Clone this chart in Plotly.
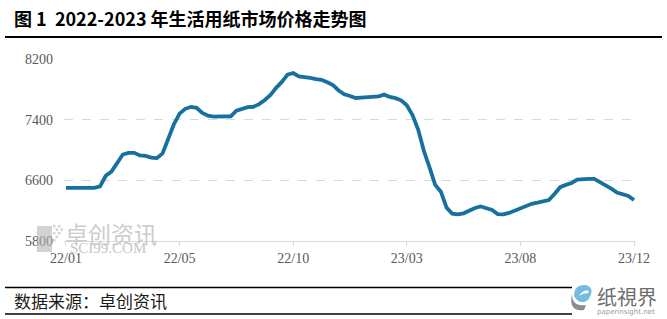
import plotly.graph_objects as go

# ---- data ----
prices = [6500, 6500, 6490, 6495, 6500, 6500, 6520, 6660, 6715, 6830,
          6940, 6962, 6962, 6928, 6922, 6900, 6893, 6955, 7150, 7340,
          7480, 7543, 7568, 7557, 7490, 7452, 7441, 7441, 7441, 7445,
          7518, 7537, 7566, 7570, 7605, 7660, 7725, 7820, 7898, 7995,
          8015, 7970, 7963, 7950, 7936, 7925, 7893, 7855, 7785, 7735,
          7712, 7686, 7690, 7692, 7700, 7706, 7730, 7700, 7684, 7655,
          7590, 7460, 7270, 6990, 6770, 6540, 6450, 6240, 6160, 6151,
          6165, 6205, 6235, 6255, 6236, 6210, 6155, 6151, 6170, 6200,
          6220, 6262, 6290, 6305, 6328, 6340, 6420, 6510, 6540, 6565,
          6610, 6618, 6618, 6618, 6575, 6545, 6490, 6440, 6422, 6395,
          6340]
x_idx = list(range(len(prices)))
tick_positions = [0, 20, 40, 60, 80, 100]
tick_labels = ["22/01", "22/05", "22/10", "23/03", "23/08", "23/12"]
y_ticks = [5800, 6600, 7400, 8200]

W, H = 667, 319
L, R, T, B = 64, 636, 59, 241


def px(x):
    return (x - L) / (R - L)


def py(y):
    return (B - y) / (B - T)


fig = go.Figure()
fig.add_trace(go.Scatter(
    x=x_idx, y=prices, mode="lines",
    line=dict(color="#17709d", width=3.8),
    hoverinfo="skip", showlegend=False,
))

shapes = []
# title rule and footer rules
for (x0, x1, y, w) in [(5, 662, 37, 2), (5, 572, 287.5, 1.6), (5, 572, 314, 1.6)]:
    shapes.append(dict(type="line", xref="paper", yref="paper",
                       x0=px(x0), x1=px(x1), y0=py(y), y1=py(y),
                       line=dict(color="#000000", width=w), layer="above"))
# watermark square block (translucent so the axis label shows through)
shapes.append(dict(type="rect", xref="paper", yref="paper",
                   x0=px(37), x1=px(52), y0=py(252), y1=py(226),
                   fillcolor="#b4b4b4", opacity=0.6, line=dict(width=0), layer="above"))
for (a, b) in [(53, 225), (58, 225), (55.5, 228.5), (53, 232), (58, 232), (60.5, 228.5), (55.5, 235.5), (53, 239)]:
    shapes.append(dict(type="rect", xref="paper", yref="paper",
                       x0=px(a), x1=px(a + 2.5), y0=py(b + 2.5), y1=py(b),
                       fillcolor="#b8b8b8", opacity=0.6, line=dict(width=0), layer="above"))
# paper-insight logo icon
shapes.append(dict(type="path", xref="paper", yref="paper",
                   path=("M {} {} Q {} {} {} {} Q {} {} {} {} Q {} {} {} {} Z").format(
                       px(574), py(296),
                       px(574), py(284), px(586), py(285),
                       px(596), py(288), px(588), py(300),
                       px(580), py(306), px(574), py(296)),
                   fillcolor="#74bde0", line=dict(width=0), layer="above"))
shapes.append(dict(type="path", xref="paper", yref="paper",
                   path=("M {} {} Q {} {} {} {} L {} {} Q {} {} {} {} Z").format(
                       px(579), py(296), px(584), py(289), px(589), py(291),
                       px(588), py(293), px(583), py(293), px(579), py(296)),
                   fillcolor="#ffffff", line=dict(width=0), layer="above"))
shapes.append(dict(type="path", xref="paper", yref="paper",
                   path=("M {} {} Q {} {} {} {} L {} {} Q {} {} {} {} Z").format(
                       px(572), py(294), px(572), py(307), px(586), py(305),
                       px(584), py(310), px(568), py(312), px(572), py(294)),
                   fillcolor="#8c8c8c", line=dict(width=0), layer="above"))

annotations = [
    dict(text="<b>图 1  2022-2023 年生活用纸市场价格走势图</b>", x=px(12), y=py(18),
         xref="paper", yref="paper", xanchor="left", yanchor="middle", showarrow=False,
         font=dict(family="Noto Sans CJK SC", size=18, color="#000000")),
    dict(text="数据来源：卓创资讯", x=px(12), y=py(300),
         xref="paper", yref="paper", xanchor="left", yanchor="middle", showarrow=False,
         font=dict(family="Noto Sans CJK SC", size=17, color="#1a1a1a")),
    dict(text="卓创资讯", x=px(63), y=py(233),
         xref="paper", yref="paper", xanchor="left", yanchor="middle", showarrow=False,
         font=dict(family="Noto Sans CJK SC", size=23, color="#cdcdcd")),
    dict(text="SCI99.COM", x=px(68), y=py(248),
         xref="paper", yref="paper", xanchor="left", yanchor="middle", showarrow=False,
         font=dict(family="Liberation Serif", size=15, color="#c6c6c6")),
    dict(text="纸視界", x=px(595), y=py(296),
         xref="paper", yref="paper", xanchor="left", yanchor="middle", showarrow=False,
         font=dict(family="Noto Sans CJK SC", size=20, color="#6e6e6e")),
    dict(text="paperinsight.net", x=px(626), y=py(312),
         xref="paper", yref="paper", xanchor="center", yanchor="middle", showarrow=False,
         font=dict(family="DejaVu Sans", size=7, color="#9a9a9a")),
]

fig.update_layout(
    width=W, height=H,
    margin=dict(l=L, r=W - R, t=T, b=H - B, pad=0),
    paper_bgcolor="#ffffff", plot_bgcolor="rgba(0,0,0,0)",
    shapes=shapes, annotations=annotations,
    xaxis=dict(range=[-0.35, 100.35], tickmode="array", tickvals=tick_positions,
               ticktext=tick_labels, showgrid=False, zeroline=False,
               showline=True, linecolor="#d9d9d9", linewidth=1,
               ticks="outside", ticklen=4, tickcolor="#d9d9d9",
               tickfont=dict(family="Liberation Serif", size=14, color="#595959")),
    yaxis=dict(range=[5800, 8200], tickmode="array", tickvals=y_ticks,
               showgrid=True, gridcolor="#d9d9d9", griddash="dash", gridwidth=1,
               zeroline=False, showline=False, ticks="", ticklabelstandoff=10,
               tickfont=dict(family="Liberation Serif", size=14, color="#595959")),
)

fig.write_html("out.html")
